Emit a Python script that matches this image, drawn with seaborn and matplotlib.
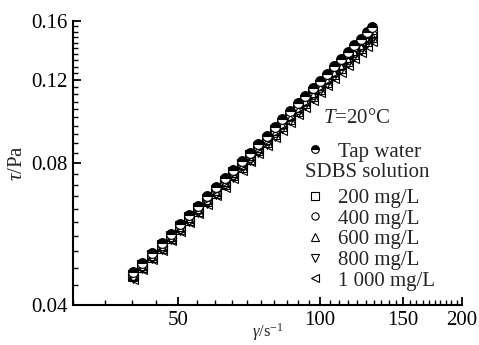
import matplotlib
matplotlib.use("Agg")
import matplotlib.pyplot as plt
import seaborn as sns
import pandas as pd
from matplotlib.ticker import FixedLocator, MultipleLocator, NullFormatter, FixedFormatter
from matplotlib.lines import Line2D

sns.set_style("ticks")
plt.rcParams['font.family'] = ['Liberation Serif', 'DejaVu Serif']
plt.rcParams['mathtext.fontset'] = 'custom'
plt.rcParams['mathtext.rm'] = 'Liberation Serif'
plt.rcParams['mathtext.it'] = 'Liberation Serif:italic'

# shear rate (1/s)
shear_rate = [40.2, 42.1, 44.1, 46.2, 48.4, 50.6, 52.9, 55.3, 57.8, 60.3, 62.9,
              65.6, 68.4, 71.2, 74.1, 77.1, 80.2, 83.3, 86.5, 89.8, 93.1, 96.5,
              100.0, 103.5, 107.1, 110.8, 114.5, 118.3, 122.1, 126.0, 129.0]

tap_water = [0.0469, 0.0492, 0.0516, 0.0541, 0.0567, 0.0594, 0.0621, 0.0650, 0.0680,
             0.0710, 0.0742, 0.0775, 0.0808, 0.0842, 0.0878, 0.0914, 0.0952, 0.0990,
             0.1029, 0.1070, 0.1110, 0.1152, 0.1195, 0.1238, 0.1282, 0.1328, 0.1373,
             0.1420, 0.1467, 0.1515, 0.1553]
sdbs_200 = [0.0464, 0.0487, 0.0510, 0.0535, 0.0561, 0.0587, 0.0614, 0.0643, 0.0672,
            0.0702, 0.0733, 0.0765, 0.0798, 0.0831, 0.0865, 0.0901, 0.0938, 0.0974,
            0.1013, 0.1051, 0.1090, 0.1131, 0.1172, 0.1213, 0.1256, 0.1300, 0.1343,
            0.1388, 0.1433, 0.1479, 0.1514]
sdbs_400 = [0.0462, 0.0484, 0.0508, 0.0532, 0.0558, 0.0583, 0.0610, 0.0638, 0.0667,
            0.0696, 0.0727, 0.0759, 0.0791, 0.0824, 0.0858, 0.0893, 0.0929, 0.0966,
            0.1004, 0.1042, 0.1081, 0.1121, 0.1162, 0.1203, 0.1246, 0.1289, 0.1330,
            0.1374, 0.1419, 0.1464, 0.1498]
sdbs_600 = [0.0460, 0.0482, 0.0505, 0.0529, 0.0555, 0.0580, 0.0607, 0.0634, 0.0663,
            0.0692, 0.0722, 0.0753, 0.0785, 0.0817, 0.0851, 0.0885, 0.0921, 0.0957,
            0.0994, 0.1032, 0.1071, 0.1110, 0.1150, 0.1191, 0.1233, 0.1275, 0.1318,
            0.1362, 0.1406, 0.1450, 0.1483]
sdbs_800 = [0.0457, 0.0479, 0.0502, 0.0527, 0.0552, 0.0577, 0.0603, 0.0631, 0.0659,
            0.0688, 0.0717, 0.0748, 0.0780, 0.0812, 0.0845, 0.0879, 0.0914, 0.0950,
            0.0986, 0.1024, 0.1062, 0.1101, 0.1140, 0.1181, 0.1222, 0.1263, 0.1305,
            0.1349, 0.1392, 0.1436, 0.1467]
sdbs_1000 = [0.0455, 0.0477, 0.0500, 0.0524, 0.0549, 0.0574, 0.0600, 0.0627, 0.0655,
             0.0683, 0.0713, 0.0743, 0.0774, 0.0806, 0.0839, 0.0872, 0.0907, 0.0942,
             0.0978, 0.1015, 0.1052, 0.1090, 0.1129, 0.1169, 0.1209, 0.1250, 0.1291,
             0.1333, 0.1376, 0.1419, 0.1452]

sdbs_labels = ["200 mg/L", "400 mg/L", "600 mg/L", "800 mg/L", "1 000 mg/L"]
sdbs_series = [sdbs_200, sdbs_400, sdbs_600, sdbs_800, sdbs_1000]
sdbs_markers = ["s", "o", "^", "v", "<"]

x_ticks = [50, 100, 150, 200]
y_ticks = [0.04, 0.08, 0.12, 0.16]
y_tick_labels = ["0.04", "0.08", "0.12", "0.16"]

fig = plt.figure(figsize=(4.79, 3.45), dpi=100)
ax = fig.add_axes([0.1524, 0.116, 0.812, 0.823])

FS = 15
MS = 7

for vals, mk in zip(sdbs_series, sdbs_markers):
    df = pd.DataFrame({"x": shear_rate, "y": vals})
    sns.lineplot(data=df, x="x", y="y", ax=ax, estimator=None, sort=False,
                 linestyle="none", marker=mk, markersize=MS, markerfacecolor="none",
                 markeredgecolor="black", markeredgewidth=0.8, color="black")

df_tap = pd.DataFrame({"x": shear_rate, "y": tap_water})
sns.lineplot(data=df_tap, x="x", y="y", ax=ax, estimator=None, sort=False,
             linestyle="none", marker="o", markersize=MS, fillstyle="top",
             markerfacecolor="black", markerfacecoloralt="white",
             markeredgecolor="black", markeredgewidth=0.8, color="black")

ax.set_xscale("log")
ax.set_yscale("log")
ax.set_xlim(30, 200)
ax.set_ylim(0.04, 0.16)

ax.xaxis.set_major_locator(FixedLocator(x_ticks))
ax.xaxis.set_major_formatter(FixedFormatter([str(v) for v in x_ticks]))
ax.xaxis.set_minor_locator(MultipleLocator(5))
ax.xaxis.set_minor_formatter(NullFormatter())
ax.yaxis.set_major_locator(FixedLocator(y_ticks))
ax.yaxis.set_major_formatter(FixedFormatter(y_tick_labels))
ax.yaxis.set_minor_locator(MultipleLocator(0.004))
ax.yaxis.set_minor_formatter(NullFormatter())

for s in ["top", "right"]:
    ax.spines[s].set_visible(False)
for s in ["left", "bottom"]:
    ax.spines[s].set_linewidth(1.5)
    ax.spines[s].set_color("black")

ax.tick_params(which="major", direction="in", length=6, width=1.3,
               labelsize=FS, colors="black", pad=4)
ax.tick_params(which="minor", direction="in", length=3.5, width=1.0, colors="black")

ax.set_xlabel(r"$\gamma$/s$^{-1}$", fontsize=12)
ax.xaxis.set_label_coords(0.5, -0.058)
ax.set_ylabel(r"$\tau$/Pa", fontsize=FS, labelpad=3)

ax.text(0.73, 0.658, r"$T$=20°C", transform=ax.transAxes, fontsize=FS,
        ha="center", va="center")

h_tap = Line2D([], [], linestyle="none", marker="o", markersize=MS * 0.8,
               fillstyle="top", markerfacecolor="black", markerfacecoloralt="white",
               markeredgecolor="black", markeredgewidth=0.8)
leg1 = ax.legend([h_tap], ["Tap water"], loc="center left",
                 bbox_to_anchor=(0.59, 0.539), frameon=False, fontsize=FS,
                 handlelength=1.2, handletextpad=0.5, borderpad=0, borderaxespad=0)
ax.add_artist(leg1)

ax.text(0.596, 0.465, "SDBS solution", transform=ax.transAxes, fontsize=FS,
        ha="left", va="center")

handles = [Line2D([], [], linestyle="none", marker=mk, markersize=MS * 0.75,
                  markerfacecolor="none", markeredgecolor="black", markeredgewidth=0.8)
           for mk in sdbs_markers]
leg2 = ax.legend(handles, sdbs_labels, loc="upper left",
                 bbox_to_anchor=(0.59, 0.41), frameon=False, fontsize=FS,
                 handlelength=1.2, handletextpad=0.5, borderpad=0, borderaxespad=0,
                 labelspacing=0.05)

fig.savefig("out.png", dpi=100)
